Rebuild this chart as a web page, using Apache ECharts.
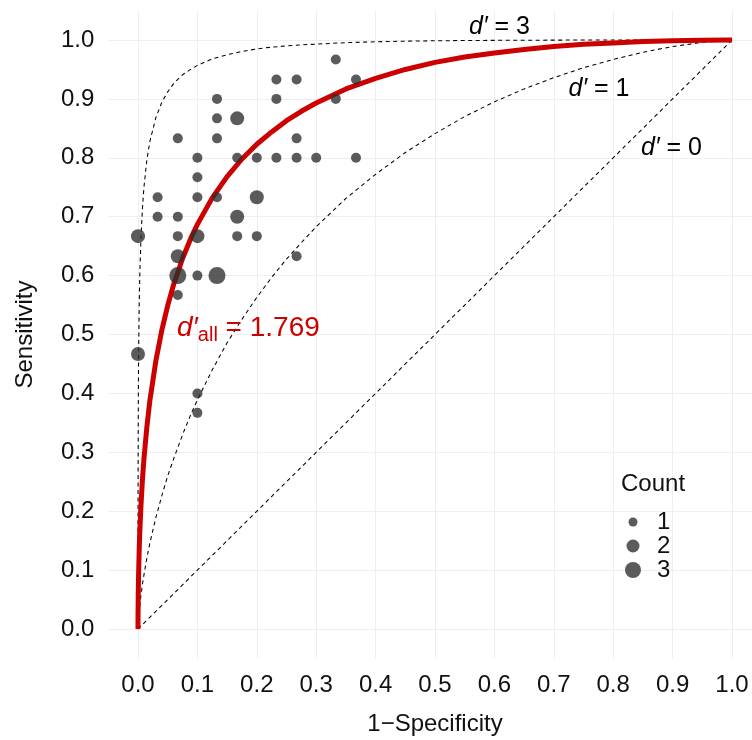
<!DOCTYPE html>
<html>
<head>
<meta charset="utf-8">
<script src="https://cdn.jsdelivr.net/npm/echarts@6/dist/echarts.min.js"></script>
<style>
html,body{margin:0;padding:0;background:#fff;}
#chart{width:752px;height:740px;}
</style>
</head>
<body>
<div id="chart"></div>
<script>
// ---- data ----
const xTicks = [0, 0.1, 0.2, 0.3, 0.4, 0.5, 0.6, 0.7, 0.8, 0.9, 1.0];
const yTicks = [0, 0.1, 0.2, 0.3, 0.4, 0.5, 0.6, 0.7, 0.8, 0.9, 1.0];

// observed points (1-Specificity, Sensitivity), grouped by count
const count1X = [0.333,0.233,0.267,0.367,0.133,0.233,0.333,0.133,0.067,0.133,0.267,0.1,0.167,0.2,0.233,0.267,0.3,0.367,0.1,0.033,0.1,0.133,0.033,0.067,0.067,0.167,0.2,0.267,0.1,0.067,0.1,0.1];
const count1Y = [0.967,0.933,0.933,0.933,0.9,0.9,0.9,0.867,0.833,0.833,0.833,0.8,0.8,0.8,0.8,0.8,0.8,0.8,0.767,0.733,0.733,0.733,0.7,0.7,0.667,0.667,0.667,0.633,0.6,0.567,0.4,0.367];
const count2X = [0.167,0.2,0.167,0,0.1,0.067,0];
const count2Y = [0.867,0.733,0.7,0.667,0.667,0.633,0.467];
const count3X = [0.067,0.133];
const count3Y = [0.6,0.6];

// ROC curves
const curveX = [0,0.000001,0.00001,0.0001,0.0005,0.001,0.002,0.003,0.005,0.0075,0.01,0.015,0.02,0.03,0.04,0.05,0.06,0.075,0.09,0.1,0.125,0.15,0.175,0.2,0.225,0.25,0.275,0.3,0.35,0.4,0.45,0.5,0.55,0.6,0.65,0.7,0.75,0.8,0.85,0.9,0.95,1.0];
const d3Y   = [0,0.040,0.103,0.236,0.386,0.464,0.549,0.5995,0.664,0.715,0.750,0.797,0.828,0.868,0.894,0.912,0.926,0.941,0.951,0.957,0.968,0.975,0.9805,0.985,0.9878,0.990,0.9918,0.993,0.9955,0.997,0.998,0.9987,0.9991,0.9994,0.9996,0.9998,0.9999,0.9999,1.0,1.0,1.0,1.0];
const dAllY = [0,0.0014,0.0063,0.026,0.064,0.093,0.134,0.164,0.210,0.254,0.289,0.344,0.388,0.455,0.507,0.549,0.585,0.629,0.666,0.687,0.732,0.768,0.798,0.823,0.844,0.863,0.879,0.893,0.917,0.935,0.950,0.962,0.971,0.978,0.984,0.989,0.9927,0.995,0.9975,0.9989,0.9997,1.0];
const d1Y   = [0,0.0001,0.0005,0.0033,0.011,0.018,0.030,0.040,0.058,0.076,0.092,0.121,0.146,0.189,0.226,0.260,0.289,0.330,0.367,0.389,0.440,0.486,0.526,0.563,0.597,0.628,0.656,0.683,0.731,0.772,0.809,0.841,0.870,0.895,0.917,0.936,0.953,0.967,0.979,0.989,0.996,1.0];
const d0X   = [0, 1];
const d0Y   = [0, 1];

const countNames = ['1', '2', '3'];

// ---- build ----
const zip = (xs, ys) => xs.map((x, i) => [x, ys[i]]);
const FONT = 'Liberation Sans, Arial, Helvetica, sans-serif';
const dashStyle = { color: '#000', width: 1.05, type: [4, 3.5] };
const pointColor = 'rgba(45,45,45,0.78)';
const sizes = [10, 14, 17];
const legendSizes = [9, 13, 16];

const chart = echarts.init(document.getElementById('chart'), null, { renderer: 'canvas' });

const scatterSeries = [[count1X, count1Y], [count2X, count2Y], [count3X, count3Y]].map((p, i) => ({
  name: countNames[i],
  type: 'scatter',
  data: zip(p[0], p[1]),
  symbol: 'circle',
  symbolSize: sizes[i],
  itemStyle: { color: pointColor, opacity: 1 },
  z: 5,
  silent: true
}));

const legends = countNames.map((n, i) => {
  const w = legendSizes[i];
  const left = 633 - w / 2;
  return {
    data: [{ name: n, icon: 'circle' }],
    left: left,
    top: 510 + i * 24,
    padding: 0,
    itemWidth: w,
    itemHeight: w,
    selectedMode: false,
    itemStyle: { opacity: 1 },
    textStyle: { fontFamily: FONT, fontSize: 24, color: '#111', padding: [0, 0, 0, 657 - (left + w + 5)] }
  };
});

const option = {
  backgroundColor: '#fff',
  animation: false,
  title: {
    text: 'Count',
    left: 621,
    top: 472,
    padding: 0,
    textStyle: { fontFamily: FONT, fontSize: 24, fontWeight: 'normal', color: '#111' }
  },
  legend: legends,
  grid: {
    left: 108.3,
    right: -9.7,
    top: 10.55,
    bottom: 81.5,
    containLabel: false,
    outerBoundsMode: 'none'
  },
  xAxis: {
    type: 'value',
    min: -0.05,
    max: 1.05,
    name: '1\u2212Specificity',
    nameLocation: 'middle',
    nameGap: 54,
    nameTextStyle: { fontFamily: FONT, fontSize: 24, color: '#111' },
    axisLine: { show: false },
    axisTick: { show: false, customValues: xTicks },
    axisLabel: {
      customValues: xTicks,
      formatter: v => v.toFixed(1),
      fontFamily: FONT, fontSize: 24, color: '#111', margin: 15
    },
    splitLine: { show: true, lineStyle: { color: '#eeeeee', width: 1 } }
  },
  yAxis: {
    type: 'value',
    min: -0.05,
    max: 1.05,
    name: 'Sensitivity',
    nameLocation: 'middle',
    nameGap: 71,
    nameTextStyle: { fontFamily: FONT, fontSize: 24, color: '#111' },
    axisLine: { show: false },
    axisTick: { show: false, customValues: yTicks },
    axisLabel: {
      customValues: yTicks,
      formatter: v => v.toFixed(1),
      fontFamily: FONT, fontSize: 24, color: '#111', margin: 14
    },
    splitLine: { show: true, lineStyle: { color: '#eeeeee', width: 1 } }
  },
  series: [
    { name: 'd0', type: 'line', data: zip(d0X, d0Y), symbol: 'none', lineStyle: dashStyle, z: 2, silent: true },
    { name: 'd1', type: 'line', data: zip(curveX, d1Y), symbol: 'none', lineStyle: dashStyle, z: 2, silent: true },
    { name: 'd3', type: 'line', data: zip(curveX, d3Y), symbol: 'none', lineStyle: dashStyle, z: 2, silent: true },
    { name: 'dall', type: 'line', data: zip(curveX, dAllY), symbol: 'none', lineStyle: { color: '#cc0000', width: 5, cap: 'butt', join: 'round' }, z: 3, silent: true },
    ...scatterSeries
  ],
  graphic: [
    {
      type: 'text', x: 499.5, y: 27, z: 10,
      style: {
        text: '{i|d\u2032} = 3', rich: { i: { fontStyle: 'italic', fontFamily: FONT, fontSize: 25, fill: '#000' } },
        fontFamily: FONT, fontSize: 25, fill: '#000', align: 'center', verticalAlign: 'middle'
      }
    },
    {
      type: 'text', x: 599, y: 89, z: 10,
      style: {
        text: '{i|d\u2032} = 1', rich: { i: { fontStyle: 'italic', fontFamily: FONT, fontSize: 25, fill: '#000' } },
        fontFamily: FONT, fontSize: 25, fill: '#000', align: 'center', verticalAlign: 'middle'
      }
    },
    {
      type: 'text', x: 671.5, y: 148, z: 10,
      style: {
        text: '{i|d\u2032} = 0', rich: { i: { fontStyle: 'italic', fontFamily: FONT, fontSize: 25, fill: '#000' } },
        fontFamily: FONT, fontSize: 25, fill: '#000', align: 'center', verticalAlign: 'middle'
      }
    },
    {
      type: 'text', x: 177, y: 328, z: 10,
      style: {
        text: '{i|d\u2032}{s|all}{n| = 1.769}',
        rich: {
          i: { fontStyle: 'italic', fontFamily: FONT, fontSize: 28, fill: '#cc0000', lineHeight: 34 },
          s: { fontFamily: FONT, fontSize: 20, fill: '#cc0000', verticalAlign: 'bottom', lineHeight: 20 },
          n: { fontFamily: FONT, fontSize: 28, fill: '#cc0000', lineHeight: 34 }
        },
        fontFamily: FONT, fontSize: 28, fill: '#cc0000', align: 'left', verticalAlign: 'middle'
      }
    }
  ]
};

chart.setOption(option);
</script>
</body>
</html>
